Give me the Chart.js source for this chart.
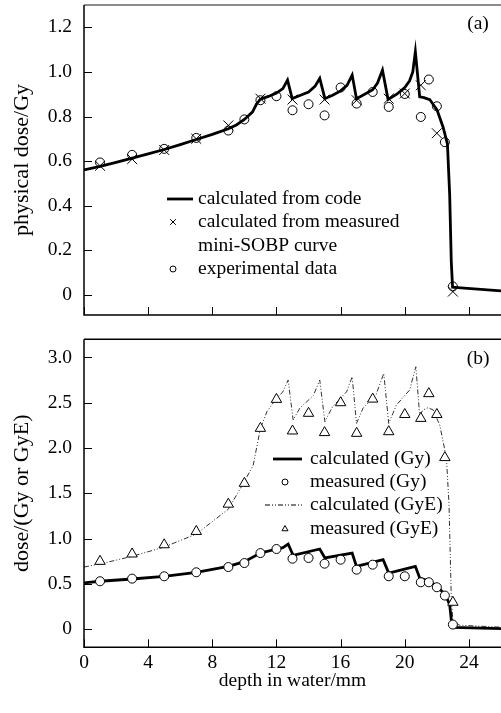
<!DOCTYPE html>
<html>
<head>
<meta charset="utf-8">
<script src="https://cdn.jsdelivr.net/npm/chart.js@4.4.1/dist/chart.umd.min.js"></script>
<style>
html, body { margin: 0; padding: 0; background: #fff; overflow: hidden; }
canvas { position: absolute; left: 0; }
#canvas1 { top: 0; }
#canvas2 { top: 330px; }
</style>
</head>
<body>
<canvas id="canvas1" width="501" height="330"></canvas>
<canvas id="canvas2" width="501" height="383"></canvas>
<script>
"use strict";

// panel (a) - physical dose
const codeDepth = [0, 1, 2, 3, 4, 5, 6, 7, 8, 9, 9.5, 10, 10.5, 10.75, 11, 11.5, 12, 12.4, 12.69, 12.98,
    13.5, 14, 14.4, 14.7, 15.02, 15.5, 16, 16.4, 16.72, 16.99, 17.5, 18, 18.3, 18.61, 18.96,
    19.5, 20, 20.3, 20.5, 20.66, 20.93, 21.2, 21.56, 22.01, 22.39, 22.66, 22.8, 22.9, 22.98, 23.5, 26];
const codeDose = [0.561, 0.576, 0.594, 0.613, 0.632, 0.652, 0.674, 0.697, 0.72, 0.745, 0.762, 0.787, 0.82, 0.855, 0.878, 0.89, 0.905, 0.925, 0.963, 0.88,
    0.895, 0.91, 0.935, 0.971, 0.88, 0.895, 0.915, 0.94, 0.986, 0.88, 0.9, 0.92, 0.95, 1.008, 0.876,
    0.9, 0.93, 0.96, 1.0, 1.091, 0.888, 0.885, 0.876, 0.83, 0.752, 0.677, 0.45, 0.15, 0.035, 0.032, 0.018];

const sobpDepth = [1, 3, 5, 7, 9, 11, 13, 15, 17, 19, 20, 21, 22, 23];
const sobpDose = [0.579, 0.609, 0.650, 0.700, 0.760, 0.880, 0.876, 0.876, 0.873, 0.880, 0.903, 0.94, 0.725, 0.015];

const expDepth = [1, 3, 5, 7, 9, 10, 11, 12, 13, 14, 15, 16, 17, 18, 19, 20, 21, 21.5, 22, 22.5, 23];
const expDose = [0.594, 0.628, 0.655, 0.704, 0.737, 0.787, 0.873, 0.891, 0.828, 0.855, 0.805, 0.930, 0.858, 0.910, 0.843, 0.901, 0.798, 0.966, 0.846, 0.685, 0.038];

// panel (b) - Gy and GyE
const gyCalcDepth = [0, 1, 3, 5, 7, 9, 10, 11, 12, 12.4, 12.73, 13.04, 14.7, 15.02, 16.72, 16.99, 18.65, 19.0,
    20.66, 20.93, 21.56, 22.0, 22.53, 22.8, 22.9, 23.0, 26];
const gyCalcDose = [0.51, 0.529, 0.554, 0.584, 0.628, 0.694, 0.745, 0.84, 0.885, 0.9, 0.94, 0.815, 0.885, 0.786, 0.84, 0.694, 0.767, 0.62,
    0.694, 0.565, 0.529, 0.474, 0.38, 0.27, 0.1, 0.02, 0.007];

const gyeCalcDepth = [0, 1, 3, 5, 7, 9, 10, 10.55, 11, 11.4, 12, 12.4, 12.73, 13.04, 13.46, 14.3, 14.7, 15.02, 15.5, 16.37, 16.72, 16.99,
    17.4, 18.2, 18.69, 19.0, 19.48, 20.3, 20.69, 20.93, 21.14, 21.45, 21.77, 22.18, 22.6, 22.76, 22.9, 23.0, 23.4, 26];
const gyeCalcDose = [0.686, 0.72, 0.804, 0.907, 1.05, 1.325, 1.63, 1.81, 2.217, 2.4, 2.55, 2.62, 2.75, 2.31, 2.44, 2.58, 2.75, 2.29, 2.456, 2.62, 2.786, 2.272,
    2.44, 2.584, 2.823, 2.272, 2.474, 2.64, 2.897, 2.364, 2.42, 2.445, 2.42, 2.254, 1.887, 1.373, 0.345, 0.088, 0.044, 0.022];

const measDepth = [1, 3, 5, 7, 9, 10, 11, 12, 13, 14, 15, 16, 17, 18, 19, 20, 21, 21.5, 22, 22.5, 23];
const measGy = [0.529, 0.558, 0.584, 0.628, 0.686, 0.73, 0.84, 0.885, 0.778, 0.786, 0.723, 0.767, 0.657, 0.712, 0.584, 0.584, 0.518, 0.518, 0.463, 0.371, 0.051];
const measGyE = [0.749, 0.83, 0.932, 1.079, 1.38, 1.61, 2.217, 2.537, 2.188, 2.383, 2.17, 2.5, 2.162, 2.54, 2.18, 2.37, 2.327, 2.6, 2.37, 1.894, 0.297];

const xTicks = [0, 4, 8, 12, 16, 20, 24];
const yTicksA = [0, 0.2, 0.4, 0.6, 0.8, 1.0, 1.2];
const yTicksB = [0, 0.5, 1.0, 1.5, 2.0, 2.5, 3.0];

const serif = "'Liberation Serif', 'Times New Roman', serif";
Chart.defaults.font.family = serif;
Chart.defaults.color = "#000";

function pts(xs, ys)
{
    return xs.map((x, i) => ({ x: x, y: ys[i] }));
}

function fmt(v)
{
    return v === 0 ? "0" : v.toFixed(1);
}

function dotStyle(ctx, style, x, y, r, fill)
{
    ctx.save();
    ctx.strokeStyle = "#000";
    ctx.fillStyle = fill;
    ctx.lineWidth = 1;
    Chart.helpers.drawPoint(ctx, { pointStyle: style, rotation: 0, radius: r, borderWidth: 1 }, x, y);
    ctx.restore();
}

// axes drawn by hand: ticks pointing inward, panel tag, legend
const framePlugin = {
    id: "frame",
    afterDraw(chart, args, o)
    {
        let ctx = chart.ctx;
        let a = chart.chartArea;
        let xs = chart.scales.x;
        let ys = chart.scales.y;
        ctx.save();
        ctx.lineWidth = 1.5;
        ctx.strokeStyle = o.topColor;
        ctx.beginPath();
        ctx.moveTo(a.left, a.top);
        ctx.lineTo(a.right, a.top);
        ctx.stroke();
        ctx.strokeStyle = "#000";
        ctx.beginPath();
        ctx.moveTo(a.left, a.top);
        ctx.lineTo(a.left, a.bottom);
        ctx.lineTo(a.right, a.bottom);
        ctx.stroke();
        ctx.lineWidth = 1;
        ctx.beginPath();
        ys.ticks.forEach(t => {
            let p = Math.round(ys.getPixelForValue(t.value)) + 0.5;
            ctx.moveTo(a.left, p);
            ctx.lineTo(a.left + 8, p);
        });
        xs.ticks.forEach(t => {
            let p = Math.round(xs.getPixelForValue(t.value)) + 0.5;
            ctx.moveTo(p, a.bottom);
            ctx.lineTo(p, a.bottom - 8);
        });
        ctx.stroke();

        ctx.fillStyle = "#000";
        ctx.font = "19.5px " + serif;
        ctx.textBaseline = "middle";
        ctx.textAlign = "center";
        ctx.fillText(o.tag, o.tagX, o.tagY);

        ctx.textAlign = "left";
        o.legend.forEach(it => {
            if (it.line)
            {
                ctx.save();
                ctx.lineWidth = it.line.width;
                ctx.setLineDash(it.line.dash || []);
                ctx.beginPath();
                ctx.moveTo(it.line.x1, it.y);
                ctx.lineTo(it.line.x2, it.y);
                ctx.stroke();
                ctx.restore();
            }
            if (it.dot)
            {
                dotStyle(ctx, it.dot.style, it.dot.x, it.y, it.dot.r, "rgba(0,0,0,0)");
            }
            ctx.fillText(it.text, o.textX, it.y);
        });
        ctx.restore();
    }
};

function xScale(showLabels, h)
{
    return {
        type: "linear",
        min: 0,
        max: 26,
        afterBuildTicks: s => { s.ticks = xTicks.map(v => ({ value: v })); },
        afterFit: s => { s.height = h; s.paddingLeft = 0; s.paddingRight = 0; },
        grid: { display: false, drawTicks: false },
        border: { display: false },
        ticks: { display: showLabels, padding: 4, font: { size: 19.5 }, color: "#000" },
        title: {
            display: showLabels,
            text: "depth in water/mm",
            font: { size: 19.5 },
            color: "#000",
            padding: { top: 0, bottom: 20 },
        },
    };
}

function yScale(mn, mx, ticks, label)
{
    return {
        type: "linear",
        min: mn,
        max: mx,
        afterBuildTicks: s => { s.ticks = ticks.map(v => ({ value: v })); },
        afterFit: s => { s.width = 84; s.paddingTop = 0; s.paddingBottom = 0; },
        grid: { display: false, drawTicks: false },
        border: { display: false },
        ticks: { padding: 12, font: { size: 19.5 }, color: "#000", callback: v => fmt(v) },
        title: {
            display: true,
            text: label,
            font: { size: 22 },
            color: "#000",
            padding: { top: 9, bottom: 0 },
        },
    };
}

const noPlugins = { legend: { display: false }, tooltip: { enabled: false } };

// panel (a)
let c1 = new Chart(document.querySelector("#canvas1"), {
    type: "scatter",
    data: {
        datasets: [
            {
                label: "calculated from measured mini-SOBP curve",
                data: pts(sobpDepth, sobpDose),
                pointStyle: "crossRot",
                pointRadius: 7,
                borderColor: "#000",
                borderWidth: 1,
            },
            {
                label: "experimental data",
                data: pts(expDepth, expDose),
                pointStyle: "circle",
                pointRadius: 4.5,
                borderColor: "#000",
                backgroundColor: "rgba(0,0,0,0)",
                borderWidth: 1,
            },
            {
                label: "calculated from code",
                data: pts(codeDepth, codeDose),
                showLine: true,
                pointRadius: 0,
                borderColor: "#000",
                borderWidth: 2.8,
                tension: 0,
            },
        ],
    },
    options: {
        responsive: false,
        animation: false,
        devicePixelRatio: 1,
        layout: { autoPadding: false, padding: { top: 5, left: 0, right: 0, bottom: 0 } },
        scales: {
            x: xScale(false, 15),
            y: yScale(-0.09, 1.3, yTicksA, "physical dose/Gy"),
        },
        plugins: Object.assign({}, noPlugins, {
            frame: {
                topColor: "#666",
                tag: "(a)",
                tagX: 478,
                tagY: 24,
                textX: 198,
                legend: [
                    { y: 199, text: "calculated from code", line: { x1: 167, x2: 193, width: 2.8 } },
                    { y: 222, text: "calculated from measured", dot: { style: "crossRot", x: 173, r: 4 } },
                    { y: 246, text: "mini-SOBP curve" },
                    { y: 269, text: "experimental data", dot: { style: "circle", x: 173, r: 3 } },
                ],
            },
        }),
    },
    plugins: [framePlugin],
});

// panel (b)
let c2 = new Chart(document.querySelector("#canvas2"), {
    type: "scatter",
    data: {
        datasets: [
            {
                label: "measured (GyE)",
                data: pts(measDepth, measGyE),
                pointStyle: "triangle",
                pointRadius: 6,
                borderColor: "#000",
                backgroundColor: "#fff",
                borderWidth: 1,
            },
            {
                label: "measured (Gy)",
                data: pts(measDepth, measGy),
                pointStyle: "circle",
                pointRadius: 4.5,
                borderColor: "#000",
                backgroundColor: "#fff",
                borderWidth: 1,
            },
            {
                label: "calculated (Gy)",
                data: pts(gyCalcDepth, gyCalcDose),
                showLine: true,
                pointRadius: 0,
                borderColor: "#000",
                borderWidth: 2.8,
                tension: 0,
            },
            {
                label: "calculated (GyE)",
                data: pts(gyeCalcDepth, gyeCalcDose),
                showLine: true,
                pointRadius: 0,
                borderColor: "#333",
                borderWidth: 1,
                borderDash: [5, 2, 1, 2, 1, 2],
                tension: 0,
            },
        ],
    },
    options: {
        responsive: false,
        animation: false,
        devicePixelRatio: 1,
        layout: { autoPadding: false, padding: { top: 9.3, left: 0, right: 0, bottom: 0 } },
        scales: {
            x: xScale(true, 65.7),
            y: yScale(-0.2, 3.2, yTicksB, "dose/(Gy or GyE)"),
        },
        plugins: Object.assign({}, noPlugins, {
            frame: {
                topColor: "#000",
                tag: "(b)",
                tagX: 478,
                tagY: 29,
                textX: 310,
                legend: [
                    { y: 129, text: "calculated (Gy)", line: { x1: 273, x2: 302, width: 2.8 } },
                    { y: 152, text: "measured (Gy)", dot: { style: "circle", x: 285, r: 3 } },
                    { y: 175, text: "calculated (GyE)", line: { x1: 265, x2: 302, width: 1, dash: [5, 2, 1, 2, 1, 2] } },
                    { y: 199, text: "measured (GyE)", dot: { style: "triangle", x: 285, r: 3.5 } },
                ],
            },
        }),
    },
    plugins: [framePlugin],
});
</script>
</body>
</html>
